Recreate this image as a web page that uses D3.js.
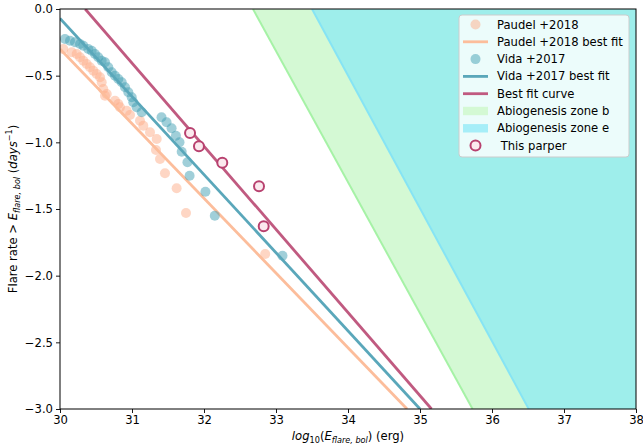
<!DOCTYPE html>
<html>
<head>
<meta charset="utf-8">
<script src="https://cdn.jsdelivr.net/npm/d3@7/dist/d3.min.js"></script>
<style>
  html, body { margin: 0; padding: 0; background: #fff; }
  svg { display: block; font-family: "DejaVu Sans", sans-serif; }
</style>
</head>
<body>
<svg id="chart" width="643" height="448"></svg>
<script>
// ---------- data ----------
const xTickValues = [30, 31, 32, 33, 34, 35, 36, 37, 38];
const yTickValues = [0, -0.5, -1.0, -1.5, -2.0, -2.5, -3.0];

const paudelX = [30.046, 30.163, 30.232, 30.278, 30.324, 30.371, 30.417, 30.463, 30.51, 30.556, 30.579, 30.601, 30.649, 30.625, 30.764, 30.81, 30.833, 30.926, 30.972, 31.111, 31.157, 31.25, 31.343, 31.333, 31.389, 31.458, 31.62, 31.75, 32.85];
const paudelY = [-0.30, -0.325, -0.338, -0.362, -0.388, -0.413, -0.437, -0.463, -0.488, -0.512, -0.55, -0.60, -0.638, -0.65, -0.688, -0.713, -0.737, -0.763, -0.795, -0.838, -0.875, -0.925, -0.975, -1.058, -1.125, -1.232, -1.345, -1.53, -1.838];

const vidaX = [30.069, 30.139, 30.208, 30.278, 30.324, 30.393, 30.44, 30.486, 30.532, 30.579, 30.625, 30.671, 30.718, 30.764, 30.81, 30.857, 30.903, 30.949, 30.996, 31.018, 31.065, 31.135, 31.41, 31.48, 31.55, 31.61, 31.66, 31.69, 31.77, 31.80, 32.02, 32.15, 33.09];
const vidaY = [-0.225, -0.238, -0.25, -0.263, -0.275, -0.30, -0.313, -0.338, -0.362, -0.388, -0.40, -0.437, -0.475, -0.50, -0.525, -0.55, -0.587, -0.625, -0.662, -0.70, -0.737, -0.775, -0.812, -0.85, -0.895, -0.95, -1.0, -1.07, -1.15, -1.25, -1.37, -1.55, -1.85];

const thisPaperX = [31.806, 31.93, 32.254, 32.764, 32.829];
const thisPaperY = [-0.93, -1.03, -1.153, -1.33, -1.63];

// straight lines, given by two end points
const paudelFitX = [30.0, 34.82];
const paudelFitY = [-0.30, -3.0];
const vidaFitX = [30.0, 35.0];
const vidaFitY = [-0.07, -3.0];
const bestFitX = [30.35, 35.16];
const bestFitY = [0.0, -3.0];
const zoneBEdgeX = [32.68, 35.73];
const zoneBEdgeY = [0.0, -3.0];
const zoneEEdgeX = [33.50, 36.51];
const zoneEEdgeY = [0.0, -3.0];

const legendLabels = ["Paudel +2018", "Paudel +2018 best fit", "Vida +2017", "Vida +2017 best fit", "Best fit curve", "Abiogenesis zone b", "Abiogenesis zone e", " This parper"];

// ---------- layout ----------
const svg = d3.select("#chart");
const m = { left: 60, right: 636, top: 9, bottom: 409 };
const x = d3.scaleLinear().domain([30, 38]).range([m.left, m.right]);
const y = d3.scaleLinear().domain([-3, 0]).range([m.bottom, m.top]);

const C = {
  paudelPt: "#fdae8a", paudelLine: "#fcbd9b",
  vidaPt: "#41a0b4", vidaLine: "#5aa7ba",
  best: "#c05a80", circEdge: "#b8416f", circFace: "#fbe9ee",
  zoneB: "#d4f9d4", zoneBEdge: "#a6f2a6",
  zoneE: "#9eeeeb", zoneEEdge: "#86e4f4", zoneELegend: "#a6eef8"
};

svg.append("defs").append("clipPath").attr("id", "clip")
  .append("rect").attr("x", m.left).attr("y", m.top)
  .attr("width", m.right - m.left).attr("height", m.bottom - m.top);

const plot = svg.append("g").attr("clip-path", "url(#clip)");

function zonePoly(ex, ey) {
  return [[ex[0], ey[0]], [38, ey[0]], [38, ey[1]], [ex[1], ey[1]]];
}
const area = d3.line().x(d => x(d[0])).y(d => y(d[1]));
plot.append("path").attr("d", area(zonePoly(zoneBEdgeX, zoneBEdgeY)) + "Z").attr("fill", C.zoneB);
plot.append("path").attr("d", area(zonePoly(zoneEEdgeX, zoneEEdgeY)) + "Z").attr("fill", C.zoneE);

function seg(xs, ys) { return xs.map((v, i) => [v, ys[i]]); }
plot.append("path").attr("d", area(seg(zoneBEdgeX, zoneBEdgeY))).attr("stroke", C.zoneBEdge).attr("stroke-width", 2).attr("fill", "none");
plot.append("path").attr("d", area(seg(zoneEEdgeX, zoneEEdgeY))).attr("stroke", C.zoneEEdge).attr("stroke-width", 2).attr("fill", "none");

plot.selectAll("circle.p").data(d3.range(paudelX.length)).enter().append("circle")
  .attr("cx", i => x(paudelX[i])).attr("cy", i => y(paudelY[i])).attr("r", 5)
  .attr("fill", C.paudelPt).attr("fill-opacity", 0.5);
plot.append("path").attr("d", area(seg(paudelFitX, paudelFitY))).attr("stroke", C.paudelLine).attr("stroke-width", 2.8).attr("fill", "none");

plot.selectAll("circle.v").data(d3.range(vidaX.length)).enter().append("circle")
  .attr("cx", i => x(vidaX[i])).attr("cy", i => y(vidaY[i])).attr("r", 5)
  .attr("fill", C.vidaPt).attr("fill-opacity", 0.5);
plot.append("path").attr("d", area(seg(vidaFitX, vidaFitY))).attr("stroke", C.vidaLine).attr("stroke-width", 2.8).attr("fill", "none");

plot.append("path").attr("d", area(seg(bestFitX, bestFitY))).attr("stroke", C.best).attr("stroke-width", 2.8).attr("fill", "none");

plot.selectAll("circle.t").data(d3.range(thisPaperX.length)).enter().append("circle")
  .attr("cx", i => x(thisPaperX[i])).attr("cy", i => y(thisPaperY[i])).attr("r", 5)
  .attr("fill", C.circFace).attr("stroke", C.circEdge).attr("stroke-width", 2);

// axes
const fs = 11.6;
const fmtY = d => (d < 0 ? "\u2212" : "") + Math.abs(d).toFixed(1);
const xAxis = d3.axisBottom(x).tickValues(xTickValues).tickSize(4).tickPadding(3).tickFormat(d3.format("d"));
const yAxis = d3.axisLeft(y).tickValues(yTickValues).tickSize(4).tickPadding(3).tickFormat(fmtY);
const gx = svg.append("g").attr("transform", `translate(0,${m.bottom})`).call(xAxis);
const gy = svg.append("g").attr("transform", `translate(${m.left},0)`).call(yAxis);
[gx, gy].forEach(g => {
  g.select(".domain").remove();
  g.selectAll("text").attr("font-size", fs).attr("font-family", "DejaVu Sans").attr("fill", "#000");
  g.selectAll("line").attr("stroke", "#000").attr("stroke-width", 0.9);
});

svg.append("rect").attr("x", m.left).attr("y", m.top).attr("width", m.right - m.left).attr("height", m.bottom - m.top)
  .attr("fill", "none").attr("stroke", "#000").attr("stroke-width", 1);

// x label
const xl = svg.append("text").attr("x", (m.left + m.right) / 2).attr("y", 440).attr("text-anchor", "middle").attr("font-size", fs);
xl.append("tspan").attr("font-style", "italic").text("log");
xl.append("tspan").attr("font-size", fs * 0.7).attr("dy", 3).text("10");
xl.append("tspan").attr("dy", -3).text("(");
xl.append("tspan").attr("font-style", "italic").text("E");
xl.append("tspan").attr("font-style", "italic").attr("font-size", fs * 0.7).attr("dy", 3).text("flare, bol");
xl.append("tspan").attr("dy", -3).text(")");
xl.append("tspan").text(" (erg)");

// y label
const yl = svg.append("text").attr("transform", `translate(17,${(m.top + m.bottom) / 2}) rotate(-90)`).attr("text-anchor", "middle").attr("font-size", fs);
yl.append("tspan").text("Flare rate > ");
yl.append("tspan").attr("font-style", "italic").text("E");
yl.append("tspan").attr("font-style", "italic").attr("font-size", fs * 0.7).attr("dy", 3).text("flare, bol");
yl.append("tspan").attr("dy", -3).text(" (");
yl.append("tspan").attr("font-style", "italic").text("days");
yl.append("tspan").attr("font-size", fs * 0.7).attr("dy", -5).text("\u22121");
yl.append("tspan").attr("dy", 5).text(")");

// legend
const lg = svg.append("g");
const L = { x0: 459, y0: 15, w: 170, h: 142, row0: 24.5, step: 17.3, hx0: 463, hx1: 488, tx: 497 };
lg.append("rect").attr("x", L.x0).attr("y", L.y0).attr("width", L.w).attr("height", L.h).attr("rx", 3)
  .attr("fill", "#fff").attr("fill-opacity", 0.8).attr("stroke", "#cccccc").attr("stroke-width", 1);
legendLabels.forEach((lab, i) => {
  const cy = L.row0 + i * L.step;
  const g = lg.append("g");
  if (i === 0 || i === 2) {
    g.append("circle").attr("cx", (L.hx0 + L.hx1) / 2).attr("cy", cy).attr("r", 5)
      .attr("fill", i === 0 ? C.paudelPt : C.vidaPt).attr("fill-opacity", 0.5);
  } else if (i === 1 || i === 3 || i === 4) {
    g.append("line").attr("x1", L.hx0).attr("x2", L.hx1).attr("y1", cy).attr("y2", cy)
      .attr("stroke", i === 1 ? C.paudelLine : i === 3 ? C.vidaLine : C.best).attr("stroke-width", 2.8);
  } else if (i === 5 || i === 6) {
    g.append("rect").attr("x", L.hx0).attr("y", cy - 4.2).attr("width", L.hx1 - L.hx0).attr("height", 8.4)
      .attr("fill", i === 5 ? C.zoneB : C.zoneELegend);
  } else {
    g.append("circle").attr("cx", (L.hx0 + L.hx1) / 2).attr("cy", cy).attr("r", 5)
      .attr("fill", C.circFace).attr("stroke", C.circEdge).attr("stroke-width", 2);
  }
  g.append("text").attr("x", L.tx).attr("y", cy + 4).attr("font-size", fs).attr("xml:space", "preserve")
    .style("white-space", "pre").text(lab);
});
</script>
</body>
</html>
